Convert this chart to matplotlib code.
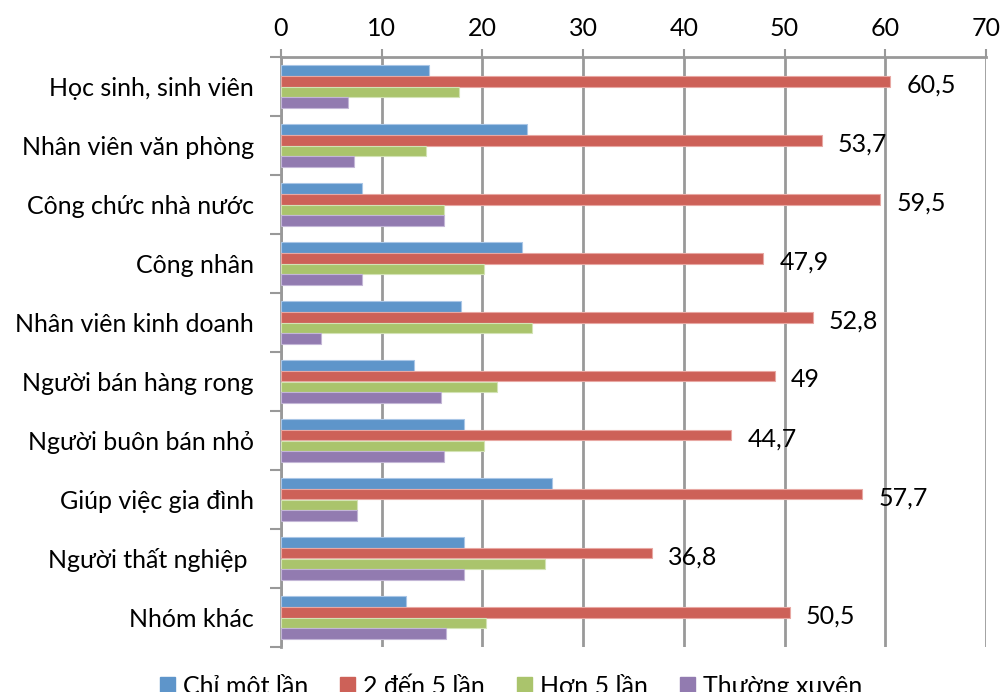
import matplotlib
matplotlib.use("Agg")
import matplotlib.pyplot as plt
import numpy as np
from matplotlib.patches import Patch

plt.rcParams['font.family'] = ['Lato', 'DejaVu Sans']

categories = ["Học sinh, sinh viên", "Nhân viên văn phòng", "Công chức nhà nước",
              "Công nhân", "Nhân viên kinh doanh", "Người bán hàng rong",
              "Người buôn bán nhỏ", "Giúp việc gia đình", "Người thất nghiệp ",
              "Nhóm khác"]
series_names = ["Chỉ môt lần", "2 đến 5 lần", "Hơn 5 lần", "Thường xuyên"]
chi_mot_lan = [14.7, 24.4, 8.0, 23.9, 17.9, 13.2, 18.2, 26.9, 18.2, 12.4]
hai_den_5 = [60.5, 53.7, 59.5, 47.9, 52.8, 49, 44.7, 57.7, 36.8, 50.5]
hon_5 = [17.7, 14.4, 16.2, 20.2, 24.9, 21.4, 20.2, 7.5, 26.2, 20.4]
thuong_xuyen = [6.7, 7.2, 16.2, 8.0, 4.0, 15.9, 16.2, 7.5, 18.2, 16.4]
red_labels = ["60,5", "53,7", "59,5", "47,9", "52,8", "49", "44,7", "57,7", "36,8", "50,5"]
x_ticks = [0, 10, 20, 30, 40, 50, 60, 70]

colors = ['#5E95CA', '#CD6158', '#AAC46C', '#927BB0']
edges = ['#A9C6E6', '#E8A8A3', '#D3E3B5', '#C3B6D6']
FS = 18

fig = plt.figure(figsize=(10.04, 6.92), dpi=100)
W, H = 1004, 692
ax = fig.add_axes([281 / W, 1 - 647 / H, (986 - 281) / W, (647 - 57) / H])

y = np.arange(len(categories))
h = 0.178
data = [chi_mot_lan, hai_den_5, hon_5, thuong_xuyen]
for k, vals in enumerate(data):
    ax.barh(y + (k - 1.5) * h, vals, height=h, color=colors[k],
            edgecolor=edges[k], linewidth=0.8, zorder=3, label=series_names[k])

for i, (v, lab) in enumerate(zip(hai_den_5, red_labels)):
    ax.text(v + 1.6, i - 0.5 * h + 0.06, lab, va='center', ha='left',
            fontsize=FS, color='black', zorder=4)

ax.set_xlim(0, 70)
ax.set_ylim(len(categories) - 0.5, -0.5)
ax.set_xticks(x_ticks)
ax.set_xticklabels([str(t) for t in x_ticks], fontsize=FS)
ax.xaxis.tick_top()
ax.tick_params(axis='x', direction='out', length=6, width=1.5, color='#999999', pad=6)
ax.grid(axis='x', color='#999999', linewidth=2, zorder=0)

ax.set_yticks(np.arange(len(categories) + 1) - 0.5, minor=False)
ax.set_yticklabels([])
ax.set_yticks(y, minor=True)
ax.set_yticklabels(categories, minor=True, fontsize=FS)
ax.tick_params(axis='y', which='major', direction='out', length=8, width=1.5, color='#999999')
ax.tick_params(axis='y', which='minor', length=0, pad=19.5)

for s in ['right', 'bottom']:
    ax.spines[s].set_visible(False)
for s in ['top', 'left']:
    ax.spines[s].set_color('#999999')
    ax.spines[s].set_linewidth(2)

handles = [Patch(facecolor=c, edgecolor=c) for c in colors]
fig.legend(handles, series_names, loc='center', bbox_to_anchor=(511 / W, 1 - 686 / H),
           ncol=4, frameon=False, fontsize=FS, handlelength=0.6, handleheight=0.6,
           handletextpad=0.3, columnspacing=1.3)

fig.savefig("out.png", dpi=100)
